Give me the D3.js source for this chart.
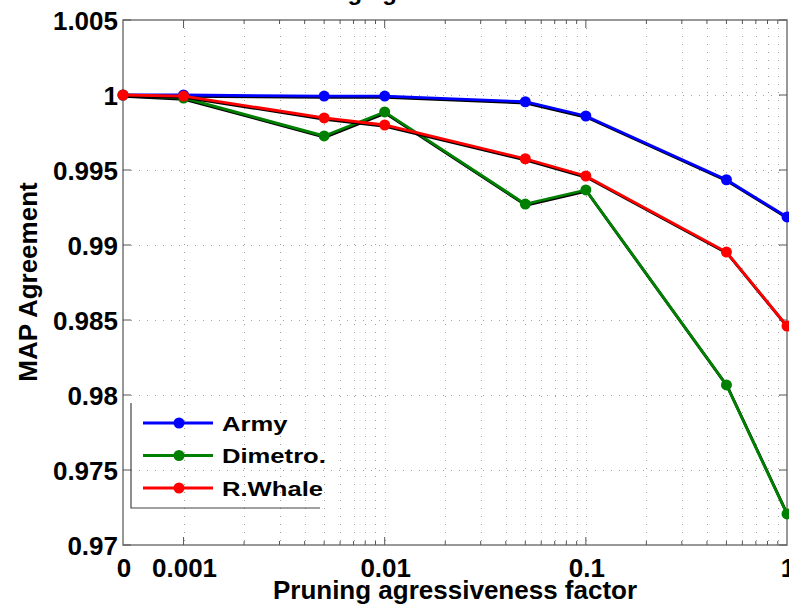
<!DOCTYPE html>
<html>
<head>
<meta charset="utf-8">
<script src="https://cdn.jsdelivr.net/npm/d3@7"></script>
<style>
  body { margin: 0; background: #fff; }
  svg { display: block; font-family: "Liberation Sans", Arial, sans-serif; }
</style>
</head>
<body>
<div id="chart"></div>
<script>
// pruning factor (0 is drawn at the left end of the log axis)
const factors = [0, 0.001, 0.005, 0.01, 0.05, 0.1, 0.5, 1];
const army    = [1, 1.0000, 0.99993, 0.99993, 0.99955, 0.9986, 0.99435, 0.99187];
const dimetro = [1, 0.9998, 0.99727, 0.99887, 0.99273, 0.99367, 0.98067, 0.97207];
const rwhale  = [1, 0.99993, 0.99847, 0.998, 0.99575, 0.9946, 0.98953, 0.9846];
const seriesNames = ["Army", "Dimetro.", "R.Whale"];
const seriesColors = ["#0000ff", "#008000", "#ff0000"];
const xTickValues = [0, 0.001, 0.01, 0.1, 1];
const xTickLabels = ["0", "0.001", "0.01", "0.1", "1"];
const yTickValues = [0.97, 0.975, 0.98, 0.985, 0.99, 0.995, 1, 1.005];

const width = 789, height = 613;
const plot = { left: 123, right: 787, top: 20, bottom: 545 };
const zeroAt = 0.0005; // where "0" sits on the log axis

const svg = d3.select("#chart").append("svg")
    .attr("width", width)
    .attr("height", height);

const x = d3.scaleLog().domain([zeroAt, 1]).range([plot.left, plot.right]);
const y = d3.scaleLinear().domain([0.97, 1.005]).range([plot.bottom, plot.top]);
const xv = v => x(v === 0 ? zeroAt : v);

// minor log ticks from 0.001 up
const minorX = [];
[0.001, 0.01, 0.1].forEach(d => { for (let k = 2; k <= 9; k++) minorX.push(d * k); });

// title (mostly outside the picture)
svg.append("text")
    .attr("x", 445).attr("y", 0)
    .attr("text-anchor", "middle")
    .attr("font-size", 24).attr("font-weight", "bold")
    .text("Pruning agressiveness effects");

// grid
const grid = svg.append("g").attr("stroke", "#a0a0a0").attr("stroke-width", 1)
    .attr("stroke-dasharray", "1,7");
grid.selectAll(".gx").data([0.001, 0.01, 0.1].concat(minorX)).join("line")
    .attr("x1", d => Math.round(x(d)) + 0.5).attr("x2", d => Math.round(x(d)) + 0.5)
    .attr("y1", plot.top).attr("y2", plot.bottom);
grid.selectAll(".gy").data(yTickValues.slice(1, -1)).join("line")
    .attr("x1", plot.left).attr("x2", plot.right)
    .attr("y1", d => Math.round(y(d)) + 0.5).attr("y2", d => Math.round(y(d)) + 0.5);

// frame
svg.append("rect")
    .attr("x", plot.left).attr("y", plot.top)
    .attr("width", plot.right - plot.left).attr("height", plot.bottom - plot.top)
    .attr("fill", "none").attr("stroke", "#777").attr("stroke-width", 1.5);

// ticks inside on all sides
const ticks = svg.append("g").attr("stroke", "#555").attr("stroke-width", 1);
const xTickAll = [0.001, 0.01, 0.1].map(d => ({ v: d, len: 8 }))
    .concat(minorX.map(d => ({ v: d, len: 4 })));
xTickAll.forEach(t => {
  const px = x(t.v);
  ticks.append("line").attr("x1", px).attr("x2", px).attr("y1", plot.bottom).attr("y2", plot.bottom - t.len);
  ticks.append("line").attr("x1", px).attr("x2", px).attr("y1", plot.top).attr("y2", plot.top + t.len);
});
yTickValues.forEach(v => {
  const py = y(v);
  ticks.append("line").attr("x1", plot.left).attr("x2", plot.left + 8).attr("y1", py).attr("y2", py);
  ticks.append("line").attr("x1", plot.right).attr("x2", plot.right - 8).attr("y1", py).attr("y2", py);
});

// tick labels
svg.append("g").selectAll("text").data(xTickValues).join("text")
    .attr("x", d => xv(d) + 1).attr("y", 577)
    .attr("text-anchor", "middle")
    .attr("font-size", 26).attr("font-weight", "bold")
    .text((d, i) => xTickLabels[i]);
svg.append("g").selectAll("text").data(yTickValues).join("text")
    .attr("x", 118).attr("y", d => y(d) + 10)
    .attr("text-anchor", "end")
    .attr("font-size", 26).attr("font-weight", "bold")
    .text(d => d3.format("")(+d.toFixed(3)));

// axis labels
svg.append("text")
    .attr("x", 455).attr("y", 599)
    .attr("text-anchor", "middle")
    .attr("font-size", 26).attr("font-weight", "bold")
    .text("Pruning agressiveness factor");
svg.append("text")
    .attr("transform", "translate(37,282) rotate(-90)")
    .attr("text-anchor", "middle")
    .attr("font-size", 26).attr("font-weight", "bold")
    .text("MAP Agreement");

// series
const allSeries = [army, dimetro, rwhale];
const line = d3.line().x((d, i) => xv(factors[i])).y(d => y(d));
const lines = svg.append("g");
allSeries.forEach((vals, s) => {
  lines.append("path").datum(vals)
      .attr("d", line)
      .attr("transform", "translate(0.8,1.3)")
      .attr("fill", "none").attr("stroke", "#000").attr("stroke-width", 2.8);
  lines.append("path").datum(vals)
      .attr("d", line)
      .attr("fill", "none").attr("stroke", seriesColors[s]).attr("stroke-width", 2.8);
  lines.append("g").selectAll("circle").data(vals).join("circle")
      .attr("cx", (d, i) => xv(factors[i])).attr("cy", d => y(d))
      .attr("r", 5.5).attr("fill", seriesColors[s]);
});

// legend
const legend = svg.append("g").attr("transform", "translate(131,403)");
legend.append("path")
    .attr("d", "M0,0V105H189")
    .attr("fill", "none").attr("stroke", "#444").attr("stroke-width", 1.2);
seriesNames.forEach((name, i) => {
  const ly = 20 + i * 32.5;
  legend.append("line").attr("x1", 12).attr("x2", 82).attr("y1", ly).attr("y2", ly)
      .attr("stroke", seriesColors[i]).attr("stroke-width", 2.8);
  legend.append("circle").attr("cx", 48).attr("cy", ly).attr("r", 5.5).attr("fill", seriesColors[i]);
  legend.append("text")
      .attr("transform", `translate(91,${ly + 7.5}) scale(1.22,1)`)
      .attr("font-size", 21).attr("font-weight", "bold")
      .text(name);
});
</script>
</body>
</html>
